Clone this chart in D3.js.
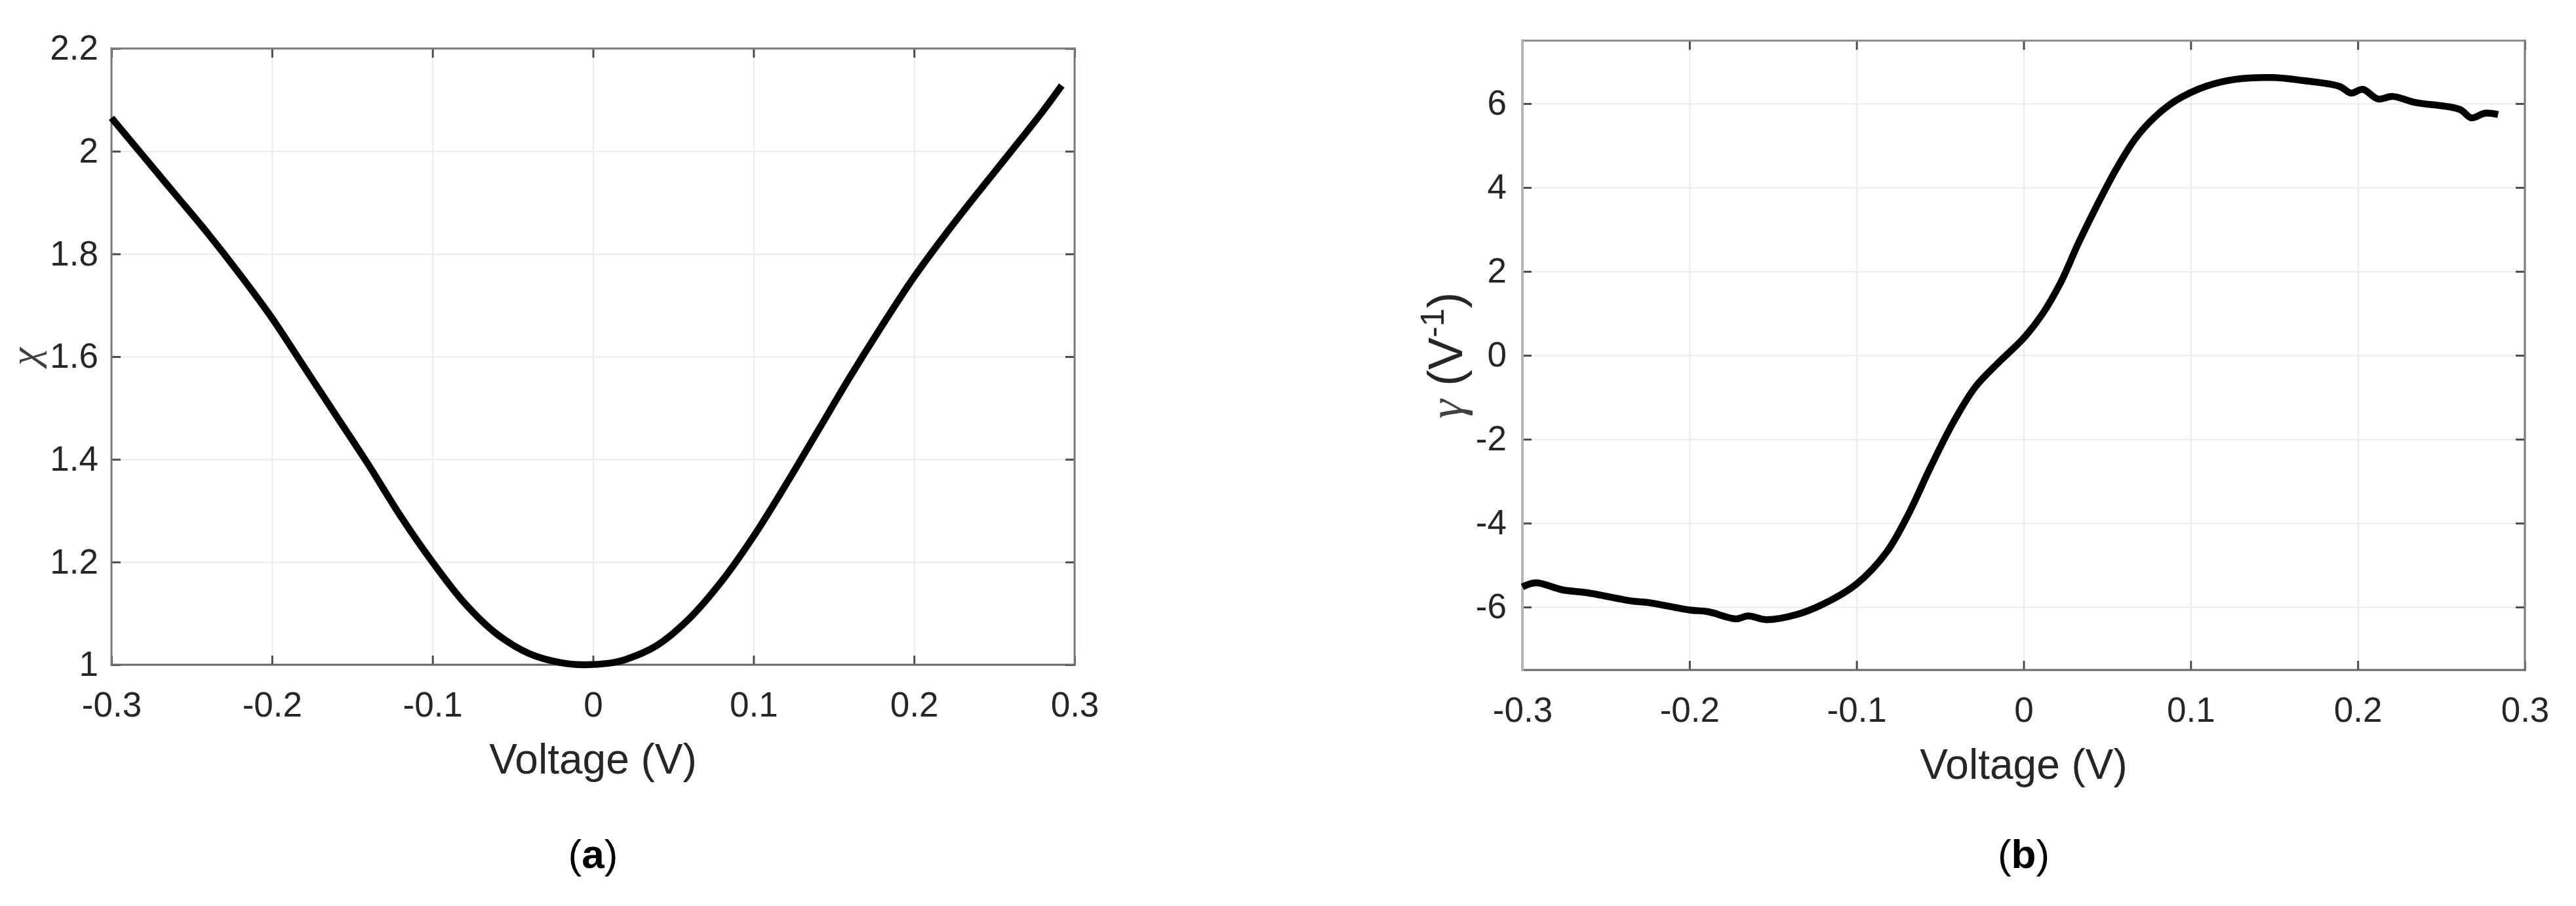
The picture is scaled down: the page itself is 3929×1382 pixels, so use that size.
<!DOCTYPE html>
<html>
<head>
<meta charset="utf-8">
<script src="https://cdn.jsdelivr.net/npm/d3@7"></script>
<style>
  html, body { margin: 0; padding: 0; background: #fff; }
  svg text { font-family: "Liberation Sans", Arial, sans-serif; }
</style>
</head>
<body>
<svg id="fig" width="3929" height="1382"></svg>
<script>
// --- data ---
const xTicks = [-0.3, -0.2, -0.1, 0, 0.1, 0.2, 0.3];
const chiTicks = [1, 1.2, 1.4, 1.6, 1.8, 2, 2.2];
const gammaTicks = [-6, -4, -2, 0, 2, 4, 6];

// (a) chi vs voltage
const chiV = [-0.3, -0.28, -0.26, -0.24, -0.22, -0.2, -0.18, -0.16, -0.14, -0.12, -0.1,
  -0.08, -0.06, -0.04, -0.02, -0.006, 0.01, 0.02, 0.04, 0.06, 0.08, 0.1, 0.12, 0.14,
  0.16, 0.18, 0.2, 0.22, 0.24, 0.26, 0.28, 0.292];
const chiY = [2.065, 1.99, 1.915, 1.84, 1.76, 1.675, 1.58, 1.485, 1.39, 1.29, 1.2,
  1.12, 1.06, 1.022, 1.004, 1.0, 1.003, 1.01, 1.038, 1.09, 1.162, 1.25, 1.35, 1.455,
  1.56, 1.66, 1.755, 1.84, 1.92, 1.998, 2.077, 2.128];

// (b) gamma vs voltage
const gamV = [-0.3, -0.292, -0.276, -0.261, -0.234, -0.225, -0.2, -0.189, -0.172, -0.165,
  -0.154, -0.136, -0.12, -0.1, -0.082, -0.069, -0.056, -0.042, -0.029, -0.016, 0, 0.011,
  0.022, 0.033, 0.045, 0.056, 0.067, 0.078, 0.091, 0.109, 0.127, 0.149, 0.167, 0.189,
  0.196, 0.203, 0.212, 0.221, 0.234, 0.261, 0.268, 0.276, 0.284];
const gamY = [-5.52, -5.42, -5.59, -5.66, -5.86, -5.89, -6.07, -6.11, -6.28, -6.21,
  -6.3, -6.18, -5.93, -5.45, -4.69, -3.79, -2.69, -1.59, -0.76, -0.21, 0.41, 0.97,
  1.72, 2.69, 3.66, 4.48, 5.17, 5.66, 6.07, 6.41, 6.58, 6.62, 6.55, 6.41,
  6.25, 6.34, 6.11, 6.17, 6.03, 5.86, 5.66, 5.77, 5.74];

const svg = d3.select("#fig");
const fmt = (d) => String(+d.toFixed(1));

function panel(opt) {
  const { left, right, top, bottom } = opt.box;
  const x = d3.scaleLinear().domain([-0.3, 0.3]).range([left, right]);
  const y = d3.scaleLinear().domain(opt.yDomain).range([bottom, top]);
  const g = svg.append("g");
  const H = bottom - top, W = right - left;

  // grid
  g.append("g").attr("transform", `translate(0,${bottom})`)
    .call(d3.axisBottom(x).tickValues(xTicks).tickSize(-H).tickFormat(""))
    .call((s) => s.select(".domain").remove())
    .selectAll("line").attr("stroke", "#ebebeb").attr("stroke-width", 2);
  g.append("g").attr("transform", `translate(${left},0)`)
    .call(d3.axisLeft(y).tickValues(opt.yTicks).tickSize(-W).tickFormat(""))
    .call((s) => s.select(".domain").remove())
    .selectAll("line").attr("stroke", "#ebebeb").attr("stroke-width", 2);

  // ticks on all four sides, pointing inward
  const tk = 14;
  const bx = g.append("g").attr("transform", `translate(0,${bottom})`)
    .call(d3.axisBottom(x).tickValues(xTicks).tickSizeInner(-tk).tickSizeOuter(0)
      .tickPadding(41).tickFormat(fmt));
  const lx = g.append("g").attr("transform", `translate(${left},0)`)
    .call(d3.axisLeft(y).tickValues(opt.yTicks).tickSizeInner(-tk).tickSizeOuter(0)
      .tickPadding(opt.yPad).tickFormat(fmt));
  const tx = g.append("g").attr("transform", `translate(0,${top})`)
    .call(d3.axisTop(x).tickValues(xTicks).tickSizeInner(-tk).tickSizeOuter(0).tickFormat(""));
  const rx = g.append("g").attr("transform", `translate(${right},0)`)
    .call(d3.axisRight(y).tickValues(opt.yTicks).tickSizeInner(-tk).tickSizeOuter(0).tickFormat(""));
  [bx, lx, tx, rx].forEach((a) => {
    a.select(".domain").remove();
    a.selectAll("line").attr("stroke", "#4d4d4d").attr("stroke-width", 3);
    a.selectAll("text").attr("font-size", 53).attr("fill", "#262626")
      .attr("font-family", "'Liberation Sans', Arial, sans-serif");
  });

  // box
  const side = (x1, y1, x2, y2, c, w) => g.append("line")
    .attr("x1", x1).attr("y1", y1).attr("x2", x2).attr("y2", y2)
    .attr("stroke", c).attr("stroke-width", w).attr("stroke-linecap", "square");
  side(left, top, right, top, opt.col.top, 3);
  side(right, top, right, bottom, opt.col.right, 3);
  side(left, bottom, right, bottom, opt.col.bottom, 3);
  side(left, top, left, bottom, opt.col.left, opt.col.leftW);

  // curve
  const pts = opt.xs.map((v, i) => [v, opt.ys[i]]);
  g.append("path").datum(pts)
    .attr("fill", "none").attr("stroke", "#000").attr("stroke-width", 10.5)
    .attr("stroke-linejoin", "round")
    .attr("d", d3.line().x((d) => x(d[0])).y((d) => y(d[1])).curve(d3.curveCatmullRom.alpha(0.5)));

  // x label
  g.append("text").attr("x", (left + right) / 2).attr("y", bottom + 166)
    .attr("text-anchor", "middle").attr("font-size", 64).attr("fill", "#262626")
    .text("Voltage (V)");

  // y label (rotated)
  const yl = g.append("text")
    .attr("transform", `translate(${opt.yLabX},${(top + bottom) / 2}) rotate(-90)`)
    .attr("text-anchor", "middle").attr("font-size", opt.yLabSize).attr("fill", "#262626");
  opt.yLabel(yl);

  // panel caption
  const cap = g.append("text").attr("x", (left + right) / 2).attr("y", 1324)
    .attr("text-anchor", "middle").attr("font-size", 62)
    .attr("font-family", "'Liberation Serif', 'Times New Roman', serif").attr("fill", "#000");
  cap.append("tspan").text("(");
  cap.append("tspan").attr("font-weight", 700).text(opt.caption);
  cap.append("tspan").text(")");
}

panel({
  box: { left: 170, right: 1639, top: 74, bottom: 1014 },
  yDomain: [1, 2.2], yTicks: chiTicks, yPad: 20,
  xs: chiV, ys: chiY,
  col: { top: "#7a7a7a", right: "#7a7a7a", bottom: "#666", left: "#7a7a7a", leftW: 3 },
  yLabX: 58, yLabSize: 62,
  yLabel: (t) => t.append("tspan")
    .attr("font-family", "'Liberation Serif', 'Times New Roman', serif")
    .attr("font-style", "italic").attr("fill", "#404040").text("χ"),
  caption: "a"
});

panel({
  box: { left: 2322, right: 3851, top: 62, bottom: 1022 },
  yDomain: [-7.5, 7.5], yTicks: gammaTicks, yPad: 24,
  xs: gamV, ys: gamY,
  col: { top: "#8a8a8a", right: "#7a7a7a", bottom: "#666", left: "#b5b5b5", leftW: 4 },
  yLabX: 2230, yLabSize: 74,
  yLabel: (t) => {
    t.append("tspan").attr("font-family", "'Liberation Serif', 'Times New Roman', serif")
      .attr("font-style", "italic").attr("fill", "#404040").text("γ");
    t.append("tspan").text(" (V");
    t.append("tspan").attr("font-size", 50).attr("dy", -28).text("-1");
    t.append("tspan").attr("dy", 28).text(")");
  },
  caption: "b"
});
</script>
</body>
</html>
